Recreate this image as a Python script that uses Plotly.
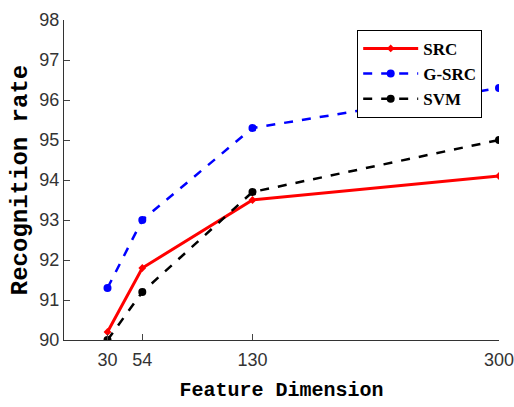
import plotly.graph_objects as go

dims = [30, 54, 130, 300]
src = [90.2, 91.8, 93.5, 94.1]
gsrc = [91.3, 93.0, 95.3, 96.3]
svm = [90.0, 91.2, 93.7, 95.0]
yticks = [90, 91, 92, 93, 94, 95, 96, 97, 98]

fig = go.Figure()
fig.add_trace(go.Scatter(x=dims, y=src, name="SRC", mode="lines+markers",
                         line=dict(color="red", width=3), marker=dict(size=6, color="red", symbol="diamond")))
fig.add_trace(go.Scatter(x=dims, y=gsrc, name="G-SRC", mode="lines+markers",
                         line=dict(color="blue", width=2.5, dash="dash"), marker=dict(size=8, color="blue")))
fig.add_trace(go.Scatter(x=dims, y=svm, name="SVM", mode="lines+markers",
                         line=dict(color="black", width=2.5, dash="dash"), marker=dict(size=8, color="black")))

fig.update_layout(
    template="none",
    width=514, height=407,
    margin=dict(l=64, r=15, t=20, b=67, autoexpand=False),
    plot_bgcolor="white", paper_bgcolor="white",
    font=dict(family="Liberation Sans Narrow, Liberation Sans", size=18, color="#333"),
    legend=dict(x=0.674, y=0.969, xanchor="left", yanchor="top",
                bordercolor="black", borderwidth=1, bgcolor="white",
                font=dict(family="Liberation Serif", size=17, color="black", weight="bold"),
                itemwidth=55, tracegroupgap=0),
    xaxis=dict(range=[0, 300], tickvals=dims, ticks="inside", ticklen=6, automargin=False,
               ticklabeloverflow="allow", ticklabelstandoff=3,
               showline=True, linecolor="#333", linewidth=1, showgrid=False, zeroline=False,
               title=dict(text="<b>Feature Dimension</b>", font=dict(family="Liberation Mono", size=20, color="black"), standoff=13)),
    yaxis=dict(range=[90, 98], tickvals=yticks, ticks="inside", ticklen=6, automargin=False,
               ticklabeloverflow="allow",
               showline=True, linecolor="#333", linewidth=1, showgrid=False, zeroline=False,
               title=dict(text="<b>Recognition rate</b>", font=dict(family="Liberation Mono", size=24, color="black"), standoff=4)),
)
fig.write_html("out.html", config={"displayModeBar": False},
               post_script="document.body.style.margin='0';document.body.style.overflow='hidden';")
